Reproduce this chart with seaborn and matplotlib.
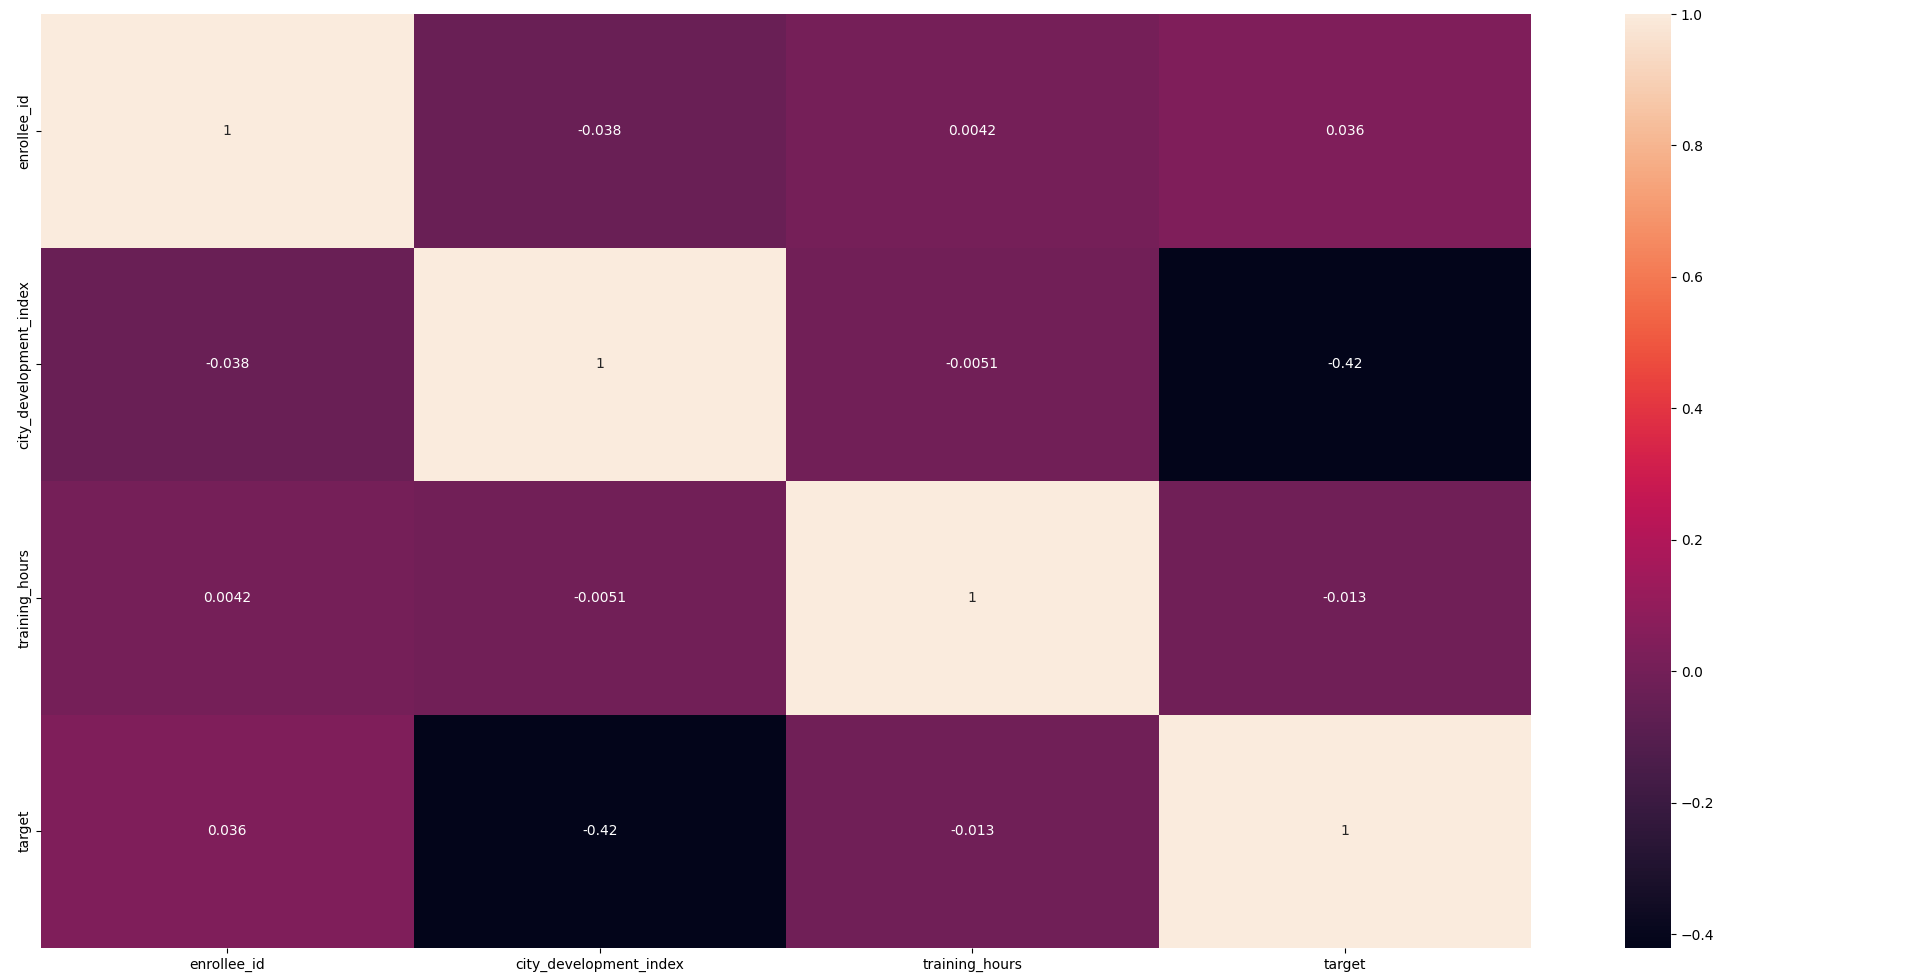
import pandas as pd
import seaborn as sns
import matplotlib.pyplot as plt

# column names of the correlation matrix
columns = ['enrollee_id', 'city_development_index', 'training_hours', 'target']

# correlation values, one row per column
enrollee_id_corr = [1.0, -0.038, 0.0042, 0.036]
city_development_index_corr = [-0.038, 1.0, -0.0051, -0.4213]
training_hours_corr = [0.0042, -0.0051, 1.0, -0.013]
target_corr = [0.036, -0.4213, -0.013, 1.0]


def plot_correlation():

    corr = pd.DataFrame(
        [enrollee_id_corr, city_development_index_corr, training_hours_corr, target_corr],
        index=columns, columns=columns)

    fig = plt.figure(figsize=(19.2, 9.75), dpi=100)
    ax = fig.add_axes([41 / 1920, 27 / 975, 1490 / 1920, 934 / 975])
    cax = fig.add_axes([1625 / 1920, 27 / 975, 46 / 1920, 934 / 975])

    sns.heatmap(corr, annot=True, ax=ax, cbar_ax=cax)
    plt.savefig('out.png', dpi=100)


plot_correlation()
